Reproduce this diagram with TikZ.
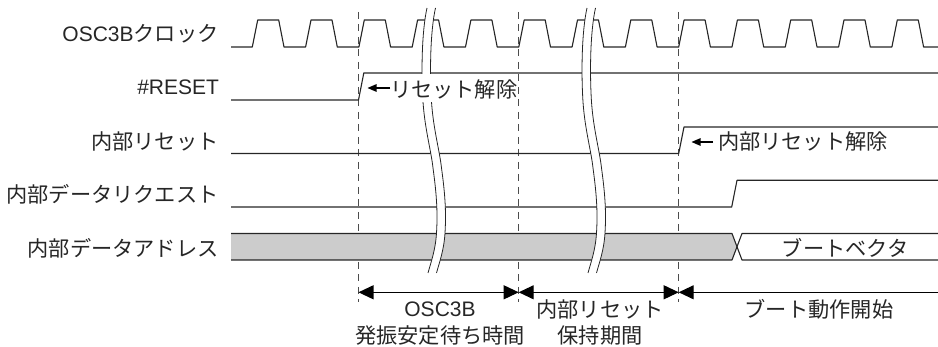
\documentclass[tikz,border=0pt]{standalone}
\usepackage{fontspec}
\usetikzlibrary{arrows.meta}
\setmainfont{Liberation Sans}
\newfontfamily\jp[Scale=1.01]{Noto Sans CJK JP}
\tikzset{
  sig/.style={line width=1.1pt,color=black!85,line join=round},
  guide/.style={line width=0.9pt,color=black!70,dash pattern=on 7pt off 5.5pt},
  brk/.style={line width=0.8pt,color=black!85},
  lbl/.style={font=\fontsize{21}{21}\selectfont,color=black!85,inner sep=0pt,outer sep=0pt},
  sigl/.style={lbl,anchor=east},
  dim/.style={line width=1.1pt,color=black,{Triangle[length=15pt,width=14pt]}-{Triangle[length=15pt,width=14pt]}},
  dimo/.style={line width=1.1pt,color=black,{Triangle[length=15pt,width=14pt]}-},
  note/.style={line width=1.1pt,color=black,-{Triangle[length=9pt,width=7.5pt]}}
}
\begin{document}
\begin{tikzpicture}[x=1pt,y=-1pt]
\useasboundingbox (0,0) rectangle (938,347);
% timing guides
\foreach \x in {358.5,518.7,678.7} \draw[guide] (\x,12) -- (\x,302);
% signals
\draw[sig] (231,47) foreach \x in {252.3,305.6,358.9,412.2,465.5,518.8,572.1,625.4,678.7,732,785.3,838.6,891.9} { -- (\x,47) -- (\x+5.4,20) -- (\x+26.4,20) -- (\x+31.7,47) } -- (938,47);
\draw[sig] (231,100) -- (358.5,100) -- (363.8,73) -- (938,73);
\draw[sig] (231,153.5) -- (678.7,153.5) -- (684,127) -- (938,127);
\draw[sig] (231,207) -- (731.7,207) -- (737,180.3) -- (938,180.3);
\path[fill=black!20] (231,233.5) -- (732,233.5) -- (737,247) -- (732,260) -- (231,260) -- cycle;
\draw[sig] (231,233.5) -- (732,233.5) -- (742,260) -- (938,260);
\draw[sig] (231,260) -- (732,260) -- (742,233.5) -- (938,233.5);
% break marks
\foreach \d in {0,160} {
  \begin{scope}[xshift=\d pt]
    \fill[white] (427,8) .. controls (422,30) and (421,70) .. (423,102) .. controls (425,130) and (431,150) .. (433,168) .. controls (436,190) and (438,210) .. (436.5,233) .. controls (435.5,250) and (431,262) .. (428,273)
      -- (436.5,273) .. controls (439.5,262) and (444,250) .. (445,233) .. controls (446.5,210) and (444.5,190) .. (441.5,168) .. controls (439.5,150) and (433.5,130) .. (431.5,102) .. controls (429.5,70) and (430.5,30) .. (435.5,8) -- cycle;
    \draw[brk] (427,8) .. controls (422,30) and (421,70) .. (423,102) .. controls (425,130) and (431,150) .. (433,168) .. controls (436,190) and (438,210) .. (436.5,233) .. controls (435.5,250) and (431,262) .. (428,273);
    \draw[brk] (435.5,8) .. controls (430.5,30) and (429.5,70) .. (431.5,102) .. controls (433.5,130) and (439.5,150) .. (441.5,168) .. controls (444.5,190) and (446.5,210) .. (445,233) .. controls (444,250) and (439.5,262) .. (436.5,273);
  \end{scope}
}
% signal names
\node[sigl] (n1) at (218.5,34) {OSC3B{\jp クロック}};
\node[sigl] (n2) at (219,87.5) {\#RESET};
\node[sigl] (n3) at (218.5,141) {\jp 内部リセット};
\node[sigl] (n4) at (218.5,194.5) {\jp 内部データリクエスト};
\node[sigl] (n5) at (218.5,248) {\jp 内部データアドレス};
% annotations
\fill[white] (367,74.5) rectangle (517,102);
\node[lbl,anchor=west] (t1) at (390,89) {\jp リセット解除};
\coordinate (t1tip) at (367.5,88);
\draw[note] (t1.west |- t1tip) -- (t1tip);
\node[lbl,anchor=west] (t2) at (718,141.5) {\jp 内部リセット解除};
\coordinate (t2tip) at (691.5,142);
\coordinate (t2tail) at (713,142);
\draw[note] (t2tail) -- (t2tip);
\node[lbl] (bv) at (845,248) {\jp ブートベクタ};
% durations
\coordinate (d0) at (358.5,292.3);
\coordinate (d1) at (518.7,292.3);
\coordinate (d2) at (678.7,292.3);
\coordinate (d3) at (938,292.3);
\draw[dim] (d0) -- (d1);
\draw[dim] (d1) -- (d2);
\draw[dimo] (d2) -- (d3);
\node[lbl] (a1) at (440,309.5) {OSC3B};
\node[lbl] (a2) at (440,335.5) {\jp 発振安定待ち時間};
\node[lbl] (b1) at (600,309.5) {\jp 内部リセット};
\node[lbl] (b2) at (600,335.5) {\jp 保持期間};
\node[lbl] (c1) at (819,309.5) {\jp ブート動作開始};
\end{tikzpicture}
\end{document}
